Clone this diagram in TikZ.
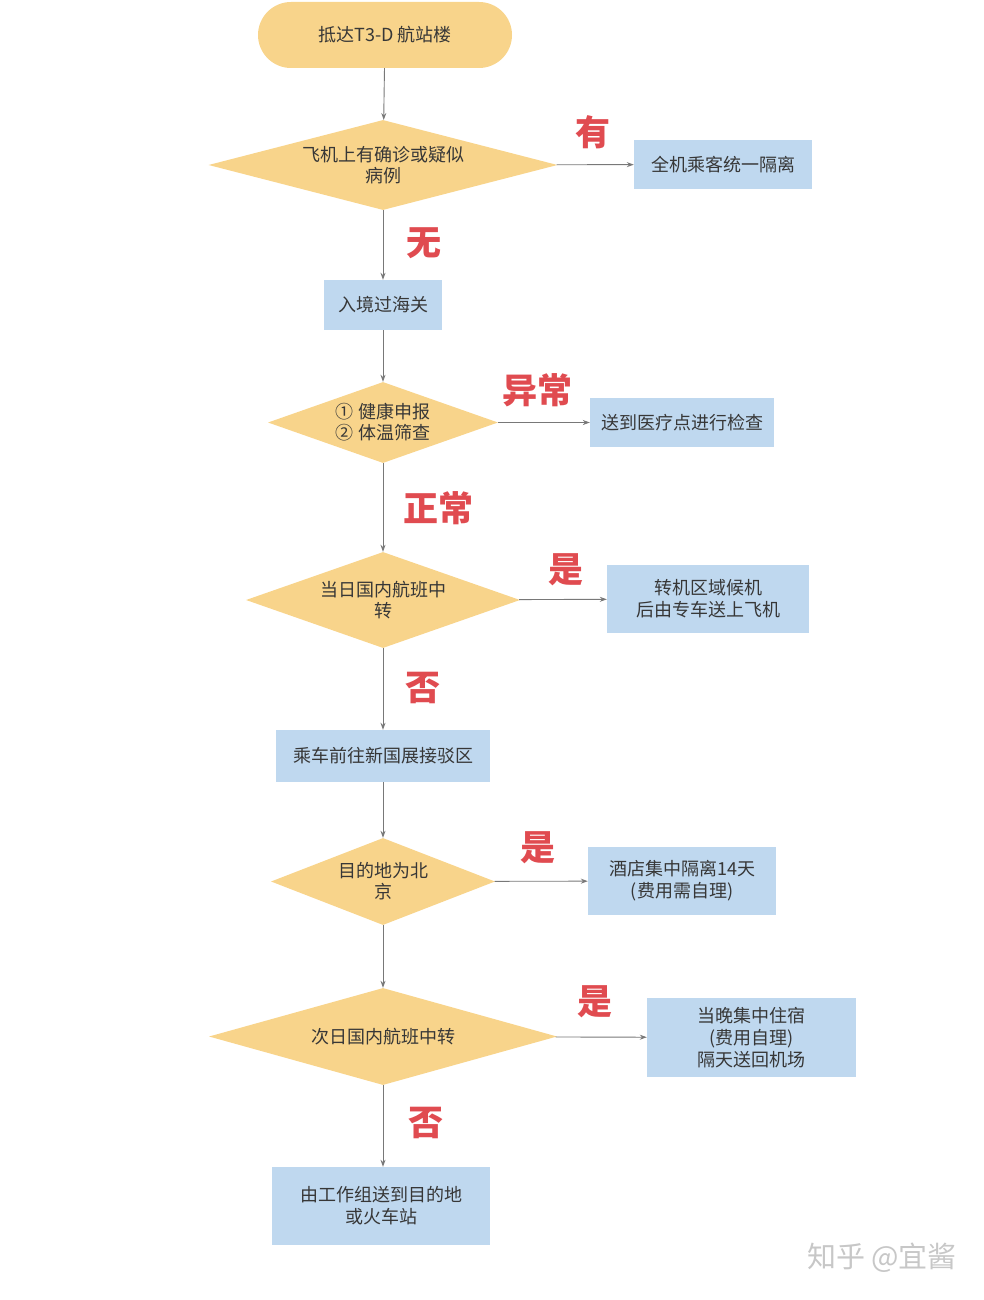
\documentclass[tikz,border=0pt]{standalone}
\usepackage{fontspec}
\setmainfont{Noto Sans CJK SC}
\usetikzlibrary{shapes.geometric,arrows.meta}
\definecolor{yelfill}{RGB}{248,212,139}
\definecolor{bluefill}{RGB}{191,216,239}
\definecolor{inktext}{RGB}{55,55,55}
\definecolor{redlab}{RGB}{224,75,80}
\definecolor{linegray}{RGB}{120,120,120}
\tikzset{
  terminal/.style={rounded corners=33pt,fill=yelfill,text=inktext,minimum width=254pt,minimum height=66pt,font=\fontsize{18}{21}\selectfont},
  decision/.style={diamond,fill=yelfill,text=inktext,inner sep=0pt,align=center,font=\fontsize{18}{21}\selectfont},
  process/.style={rectangle,fill=bluefill,text=inktext,inner sep=0pt,align=center,font=\fontsize{18}{22}\selectfont},
  answer/.style={text=redlab,font=\fontsize{35}{36}\selectfont\bfseries},
  flow/.style={draw=linegray,line width=0.9pt,-{Stealth[length=7pt,width=5pt]}},
}
\begin{document}
\begin{tikzpicture}[x=1pt,y=1pt,yscale=-1]
\useasboundingbox (0,0) rectangle (984,1300);

%Shape: Terminal
\node[terminal] (arrive) at (385,35) {抵达T3-D 航站楼};

%Shape: Diamond
\node[decision,minimum width=349pt,minimum height=90pt,aspect=3.88] (onboard) at (383,165) {飞机上有确诊或疑似\\病例};
%Shape: Rectangle
\node[process,minimum width=178pt,minimum height=49pt] (allquar) at (723,164.5) {全机乘客统一隔离};
%Shape: Rectangle
\node[process,minimum width=118pt,minimum height=50pt] (customs) at (383,305) {入境过海关};

%Shape: Diamond
\node[decision,minimum width=230pt,minimum height=81pt,aspect=2.84] (health) at (383,422.5) {① 健康申报\\② 体温筛查};
%Shape: Rectangle
\node[process,minimum width=184pt,minimum height=49pt] (medical) at (682,422.5) {送到医疗点进行检查};

%Shape: Diamond
\node[decision,minimum width=274pt,minimum height=96pt,aspect=2.85] (sameday) at (383,600) {当日国内航班中\\转};
%Shape: Rectangle
\node[process,minimum width=202pt,minimum height=68pt] (transfer) at (708,599) {转机区域候机\\后由专车送上飞机};
%Shape: Rectangle
\node[process,minimum width=214pt,minimum height=52pt] (shuttle) at (383,756) {乘车前往新国展接驳区};

%Shape: Diamond
\node[decision,minimum width=224pt,minimum height=87pt,aspect=2.57] (beijing) at (383,881.5) {目的地为北\\京};
%Shape: Rectangle
\node[process,minimum width=188pt,minimum height=68pt] (hotel) at (682,881) {酒店集中隔离14天\\(费用需自理)};

%Shape: Diamond
\node[decision,minimum width=348pt,minimum height=97pt,aspect=3.59] (nextday) at (383,1036.5) {次日国内航班中转};
%Shape: Rectangle
\node[process,minimum width=209pt,minimum height=79pt] (overnight) at (751.5,1037.5) {当晚集中住宿\\(费用自理)\\隔天送回机场};
%Shape: Rectangle
\node[process,minimum width=218pt,minimum height=78pt] (workteam) at (381,1206) {由工作组送到目的地\\或火车站};

%Straight Lines
\draw[flow] (arrive) -- (onboard);
\draw[flow] (onboard) -- (allquar);
\draw[flow] (onboard) -- (customs);
\draw[flow] (customs) -- (health);
\draw[flow] (health) -- (medical);
\draw[flow] (health) -- (sameday);
\draw[flow] (sameday) -- (transfer);
\draw[flow] (sameday) -- (shuttle);
\draw[flow] (shuttle) -- (beijing);
\draw[flow] (beijing) -- (hotel);
\draw[flow] (beijing) -- (nextday);
\draw[flow] (nextday) -- (overnight);
\draw[flow] (nextday.south) -- (nextday.south |- workteam.north);

% Text Node
\node[answer] (you) at (593,132) {有};
% Text Node
\node[answer] (wu) at (424,243) {无};
% Text Node
\node[answer] (abnormal) at (537,390) {异常};
% Text Node
\node[answer] (normal) at (438,508) {正常};
% Text Node
\node[answer] (yesa) at (566,570) {是};
% Text Node
\node[answer] (noa) at (423,688) {否};
% Text Node
\node[answer] (yesb) at (538,848) {是};
% Text Node
\node[answer] (yesc) at (595,1002) {是};
% Text Node
\node[answer] (nob) at (426,1123) {否};
% Text Node
\node[text=black!22,font=\fontsize{29}{30}\selectfont] (mark) at (882,1258) {知乎 @宜酱};

\end{tikzpicture}
\end{document}
